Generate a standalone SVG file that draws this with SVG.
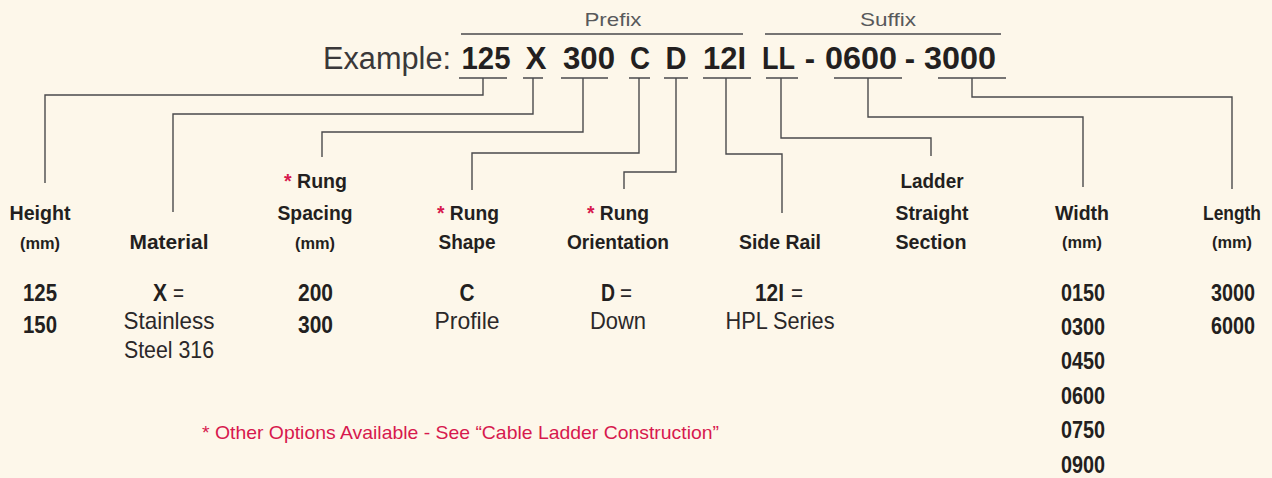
<svg xmlns="http://www.w3.org/2000/svg" width="1272" height="478" viewBox="0 0 1272 478">
<style>
text{font-family:"Liberation Sans",Arial,sans-serif;fill:#231f20}
.m{text-anchor:middle}
.b{font-weight:bold}
.lbl{font-weight:bold;font-size:21px}
.mm{font-weight:bold;font-size:17px}
.val{font-weight:bold;font-size:24px}
.reg{font-size:24px;fill:#2b2829}
.code{font-weight:bold;font-size:31px}
.ex{font-size:31px;fill:#3a3839}
.hdr{font-size:19px;fill:#58595b}
.note{font-size:19px;fill:#d7194e}
.ast{fill:#d7194e}
.ln{fill:none;stroke:#4a4a4c;stroke-width:1.4}
</style>
<rect width="1272" height="478" fill="#fdf7ea"/>

<g id="header">
<text class="hdr m" x="613" y="26" textLength="57" lengthAdjust="spacingAndGlyphs">Prefix</text>
<text class="hdr m" x="888" y="26" textLength="56" lengthAdjust="spacingAndGlyphs">Suffix</text>
<text class="ex" x="323" y="69" textLength="128" lengthAdjust="spacingAndGlyphs">Example:</text>
<text class="code m" x="486" y="69" textLength="49" lengthAdjust="spacingAndGlyphs">125</text>
<text class="code m" x="536" y="69" textLength="21" lengthAdjust="spacingAndGlyphs">X</text>
<text class="code m" x="589" y="69" textLength="52" lengthAdjust="spacingAndGlyphs">300</text>
<text class="code m" x="640" y="69" textLength="20" lengthAdjust="spacingAndGlyphs">C</text>
<text class="code m" x="676" y="69" textLength="21" lengthAdjust="spacingAndGlyphs">D</text>
<text class="code m" x="724.5" y="69" textLength="43" lengthAdjust="spacingAndGlyphs">12I</text>
<text class="code m" x="778.5" y="69" textLength="33" lengthAdjust="spacingAndGlyphs">LL</text>
<text class="code m" x="810" y="69">-</text>
<text class="code m" x="861" y="69" textLength="72" lengthAdjust="spacingAndGlyphs">0600</text>
<text class="code m" x="910" y="69">-</text>
<text class="code m" x="960" y="69" textLength="72" lengthAdjust="spacingAndGlyphs">3000</text>
</g>

<g id="connectors" class="ln">
<path d="M461 34H743M765 34H1001"/>
<path d="M459 78H507M483 78V95H45V183"/>
<path d="M523 78H543M533 78V114H173V212"/>
<path d="M561 78H608M583 78V132H322V157"/>
<path d="M629 78H650M639 78V153H472V190"/>
<path d="M664 78H688M676 78V172H624V189"/>
<path d="M703 78H751M726 78V154H782V213"/>
<path d="M766 78H798M781 78V138H931V156"/>
<path d="M834 78H902M868 78V117H1083V187"/>
<path d="M938 78H1006M972 78V97H1232V189"/>
</g>

<g id="height">
<text class="lbl m" x="40" y="220" textLength="61" lengthAdjust="spacingAndGlyphs">Height</text>
<text class="mm m" x="40" y="249" textLength="40" lengthAdjust="spacingAndGlyphs">(mm)</text>
<text class="val m" x="40" y="301" textLength="34" lengthAdjust="spacingAndGlyphs">125</text>
<text class="val m" x="40" y="333" textLength="34" lengthAdjust="spacingAndGlyphs">150</text>
</g>

<g id="material">
<text class="lbl m" x="169" y="249" textLength="79" lengthAdjust="spacingAndGlyphs">Material</text>
<text class="val" x="153" y="301" textLength="14" lengthAdjust="spacingAndGlyphs">X</text>
<text class="reg" x="173" y="301" textLength="11" lengthAdjust="spacingAndGlyphs">=</text>
<text class="reg m" x="169" y="329" textLength="91" lengthAdjust="spacingAndGlyphs">Stainless</text>
<text class="reg m" x="169" y="358" textLength="90" lengthAdjust="spacingAndGlyphs">Steel 316</text>
</g>

<g id="rung-spacing">
<text class="lbl" x="284" y="188" textLength="63" lengthAdjust="spacingAndGlyphs"><tspan class="ast">*</tspan> Rung</text>
<text class="lbl m" x="315" y="220" textLength="75" lengthAdjust="spacingAndGlyphs">Spacing</text>
<text class="mm m" x="315" y="249" textLength="40" lengthAdjust="spacingAndGlyphs">(mm)</text>
<text class="val m" x="315.5" y="301" textLength="35" lengthAdjust="spacingAndGlyphs">200</text>
<text class="val m" x="315.5" y="333" textLength="35" lengthAdjust="spacingAndGlyphs">300</text>
</g>

<g id="rung-shape">
<text class="lbl" x="437" y="220" textLength="62" lengthAdjust="spacingAndGlyphs"><tspan class="ast">*</tspan> Rung</text>
<text class="lbl m" x="467" y="249" textLength="57" lengthAdjust="spacingAndGlyphs">Shape</text>
<text class="val m" x="467" y="301" textLength="15" lengthAdjust="spacingAndGlyphs">C</text>
<text class="reg m" x="467" y="329" textLength="65" lengthAdjust="spacingAndGlyphs">Profile</text>
</g>

<g id="rung-orientation">
<text class="lbl" x="587" y="220" textLength="62" lengthAdjust="spacingAndGlyphs"><tspan class="ast">*</tspan> Rung</text>
<text class="lbl m" x="618" y="249" textLength="102" lengthAdjust="spacingAndGlyphs">Orientation</text>
<text class="val" x="601" y="301" textLength="14" lengthAdjust="spacingAndGlyphs">D</text>
<text class="reg" x="620" y="301" textLength="12" lengthAdjust="spacingAndGlyphs">=</text>
<text class="reg m" x="618" y="329" textLength="56" lengthAdjust="spacingAndGlyphs">Down</text>
</g>

<g id="side-rail">
<text class="lbl m" x="780" y="249" textLength="82" lengthAdjust="spacingAndGlyphs">Side Rail</text>
<text class="val" x="755" y="301" textLength="29" lengthAdjust="spacingAndGlyphs">12I</text>
<text class="reg" x="791" y="301" textLength="12" lengthAdjust="spacingAndGlyphs">=</text>
<text class="reg m" x="780" y="329" textLength="109" lengthAdjust="spacingAndGlyphs">HPL Series</text>
</g>

<g id="ladder-straight-section">
<text class="lbl m" x="932" y="188" textLength="63" lengthAdjust="spacingAndGlyphs">Ladder</text>
<text class="lbl m" x="932" y="220" textLength="73" lengthAdjust="spacingAndGlyphs">Straight</text>
<text class="lbl m" x="931" y="249" textLength="71" lengthAdjust="spacingAndGlyphs">Section</text>
</g>

<g id="width">
<text class="lbl m" x="1082" y="220" textLength="54" lengthAdjust="spacingAndGlyphs">Width</text>
<text class="mm m" x="1082" y="248" textLength="40" lengthAdjust="spacingAndGlyphs">(mm)</text>
<text class="val m" x="1083" y="301" textLength="44" lengthAdjust="spacingAndGlyphs">0150</text>
<text class="val m" x="1083" y="335" textLength="44" lengthAdjust="spacingAndGlyphs">0300</text>
<text class="val m" x="1083" y="369" textLength="44" lengthAdjust="spacingAndGlyphs">0450</text>
<text class="val m" x="1083" y="404" textLength="44" lengthAdjust="spacingAndGlyphs">0600</text>
<text class="val m" x="1083" y="438" textLength="44" lengthAdjust="spacingAndGlyphs">0750</text>
<text class="val m" x="1083" y="473" textLength="44" lengthAdjust="spacingAndGlyphs">0900</text>
</g>

<g id="length">
<text class="lbl m" x="1232" y="220" textLength="58" lengthAdjust="spacingAndGlyphs">Length</text>
<text class="mm m" x="1232" y="248" textLength="40" lengthAdjust="spacingAndGlyphs">(mm)</text>
<text class="val m" x="1233" y="301" textLength="44" lengthAdjust="spacingAndGlyphs">3000</text>
<text class="val m" x="1233" y="334" textLength="44" lengthAdjust="spacingAndGlyphs">6000</text>
</g>

<g id="footnote">
<text class="note" x="202" y="439" textLength="517" lengthAdjust="spacingAndGlyphs">* Other Options Available - See “Cable Ladder Construction”</text>
</g>
</svg>
